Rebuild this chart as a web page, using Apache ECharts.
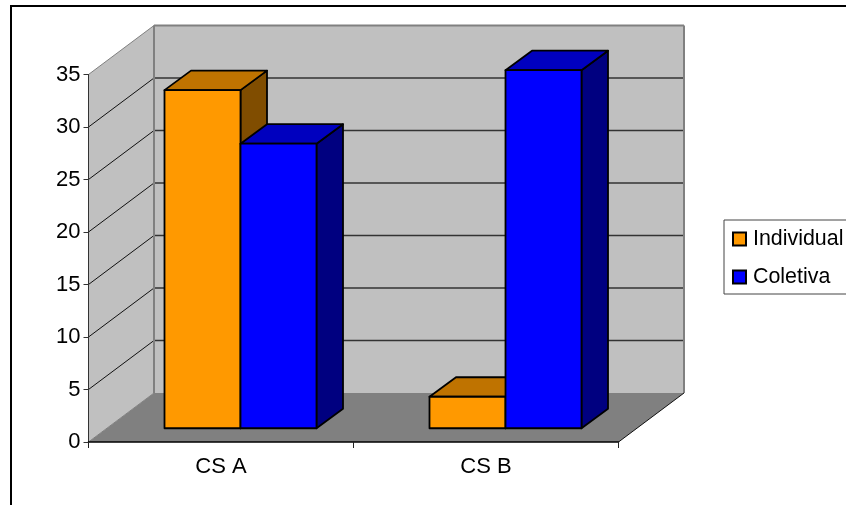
<!DOCTYPE html>
<html>
<head>
<meta charset="utf-8">
<style>html,body{margin:0;padding:0;background:#fff}#chart{width:846px;height:505px}</style>
<script src="https://cdn.jsdelivr.net/npm/echarts@6/dist/echarts.min.js"></script>
</head>
<body>
<div id="chart"></div>
<script>
const categories = ['CS A', 'CS B'];
const individual = [32.2, 3];
const coletiva = [27.1, 34.1];
const gridValues = [5, 10, 15, 20, 25, 30];

// Pseudo-3D geometry, in pixels
const WALL_DX = 65.5, WALL_DY = -49;
const BAR_DX = 26.5, BAR_DY = -19.5;
const BAR_SHIFT_X = 19.5, BAR_SHIFT_Y = -13.75;
const BAR_WIDTH_RATIO = 76 / 265;

const font = 'Liberation Sans, Arial, sans-serif';

function poly(points, fill, stroke, width) {
  return {
    type: 'polygon',
    shape: { points },
    style: { fill, stroke: stroke || 'none', lineWidth: width || 0, lineJoin: 'round' }
  };
}
function seg(a, b, stroke, width) {
  return {
    type: 'line',
    shape: { x1: a[0], y1: a[1], x2: b[0], y2: b[1] },
    style: { stroke, lineWidth: width }
  };
}

// Floor, left wall, back wall and their gridlines
function renderWalls(params, api) {
  const o = api.coord([0, 0]);
  const top = api.coord([0, 35])[1];
  const catW = api.size([1, 0])[0];
  const x0 = o[0] - catW / 2, y0 = o[1], x1 = x0 + catW * categories.length;
  const back = (x, y) => [x + WALL_DX, y + WALL_DY];
  const children = [
    poly([[x0, y0], [x1, y0], back(x1, y0), back(x0, y0)], '#808080'),
    poly([[x0, y0], back(x0, y0), back(x0, top), [x0, top]], '#c0c0c0'),
    poly([back(x0, y0), back(x1, y0), back(x1, top), back(x0, top)], '#c0c0c0')
  ];
  gridValues.forEach(v => {
    const y = api.coord([0, v])[1];
    children.push(seg([x0, y], back(x0, y), '#111', 1));
    children.push(seg(back(x0, y), back(x1, y), '#333', 1.5));
  });
  children.push(seg([x0, top], back(x0, top), '#808080', 1));
  children.push(seg([x0, y0], back(x0, y0), '#808080', 1));
  children.push(seg(back(x0, top), back(x1, top), '#808080', 2));
  children.push(seg(back(x0, top), back(x0, y0), '#808080', 2));
  children.push(seg(back(x1, top), back(x1, y0), '#808080', 2));
  children.push(seg([x1, y0], back(x1, y0), '#111', 1));
  return { type: 'group', children };
}

// One box: front, top and side faces
function boxRenderer(side, front, topFace, sideFace) {
  return function (params, api) {
    const c = api.coord([api.value(0), api.value(1)]);
    const base = api.coord([api.value(0), 0])[1] + BAR_SHIFT_Y;
    const w = api.size([1, 0])[0] * BAR_WIDTH_RATIO;
    const xl = c[0] + BAR_SHIFT_X + (side === 0 ? -w : 0), xr = xl + w;
    const yt = c[1] + BAR_SHIFT_Y;
    const d = (x, y) => [x + BAR_DX, y + BAR_DY];
    return {
      type: 'group',
      children: [
        poly([[xr, yt], d(xr, yt), d(xr, base), [xr, base]], sideFace, '#000', 1.8),
        poly([[xl, yt], d(xl, yt), d(xr, yt), [xr, yt]], topFace, '#000', 1.8),
        poly([[xl, yt], [xr, yt], [xr, base], [xl, base]], front, '#000', 1.8)
      ]
    };
  };
}

const chart = echarts.init(document.getElementById('chart'), null, { renderer: 'canvas' });
chart.setOption({
  animation: false,
  backgroundColor: '#fff',
  textStyle: { fontFamily: font },
  graphic: [{
    type: 'rect',
    silent: true,
    z: -10,
    shape: { x: 11, y: 6, width: 900, height: 600 },
    style: { fill: '#fff', stroke: '#000', lineWidth: 2 }
  }],
  grid: { left: 88.5, top: 74.5, width: 530, height: 367.5 },
  legend: {
    left: 724,
    top: 220,
    orient: 'vertical',
    data: ['Individual', 'Coletiva'],
    icon: 'rect',
    itemWidth: 13,
    itemHeight: 13,
    itemGap: 16,
    padding: [8, 14, 6, 8],
    borderColor: '#444',
    borderWidth: 1,
    backgroundColor: '#fff',
    selectedMode: false,
    textStyle: { fontFamily: font, fontSize: 21.4, color: '#000', lineHeight: 22, padding: [0, 0, 0, 2] }
  },
  xAxis: {
    type: 'category',
    data: categories,
    z: 5,
    axisLine: { lineStyle: { color: '#000', width: 1.5 } },
    axisTick: { show: true, length: 6, alignWithLabel: false, lineStyle: { color: '#222', width: 1 } },
    axisLabel: { color: '#000', fontFamily: font, fontSize: 22, margin: 14 },
    splitLine: { show: false }
  },
  yAxis: {
    type: 'value',
    min: 0,
    max: 35,
    interval: 5,
    z: 5,
    axisLine: { show: true, lineStyle: { color: '#333', width: 1 } },
    axisTick: { show: true, length: 5, lineStyle: { color: '#333', width: 1 } },
    axisLabel: { color: '#000', fontFamily: font, fontSize: 22, margin: 8 },
    splitLine: { show: false }
  },
  series: [
    {
      name: 'walls',
      type: 'custom',
      renderItem: renderWalls,
      data: [[0, 0]],
      encode: { x: 0, y: 1 },
      clip: false,
      silent: true,
      z: 1
    },
    {
      name: 'Individual',
      type: 'custom',
      renderItem: boxRenderer(0, '#ff9900', '#bf7300', '#804d00'),
      data: individual.map((v, i) => [i, v]),
      encode: { x: 0, y: 1 },
      clip: false,
      itemStyle: { color: '#ff9900', borderColor: '#000', borderWidth: 1.5 },
      z: 2
    },
    {
      name: 'Coletiva',
      type: 'custom',
      renderItem: boxRenderer(1, '#0000ff', '#0000bf', '#000080'),
      data: coletiva.map((v, i) => [i, v]),
      encode: { x: 0, y: 1 },
      clip: false,
      itemStyle: { color: '#0000ff', borderColor: '#000', borderWidth: 1.5 },
      z: 3
    }
  ]
});
</script>
</body>
</html>
